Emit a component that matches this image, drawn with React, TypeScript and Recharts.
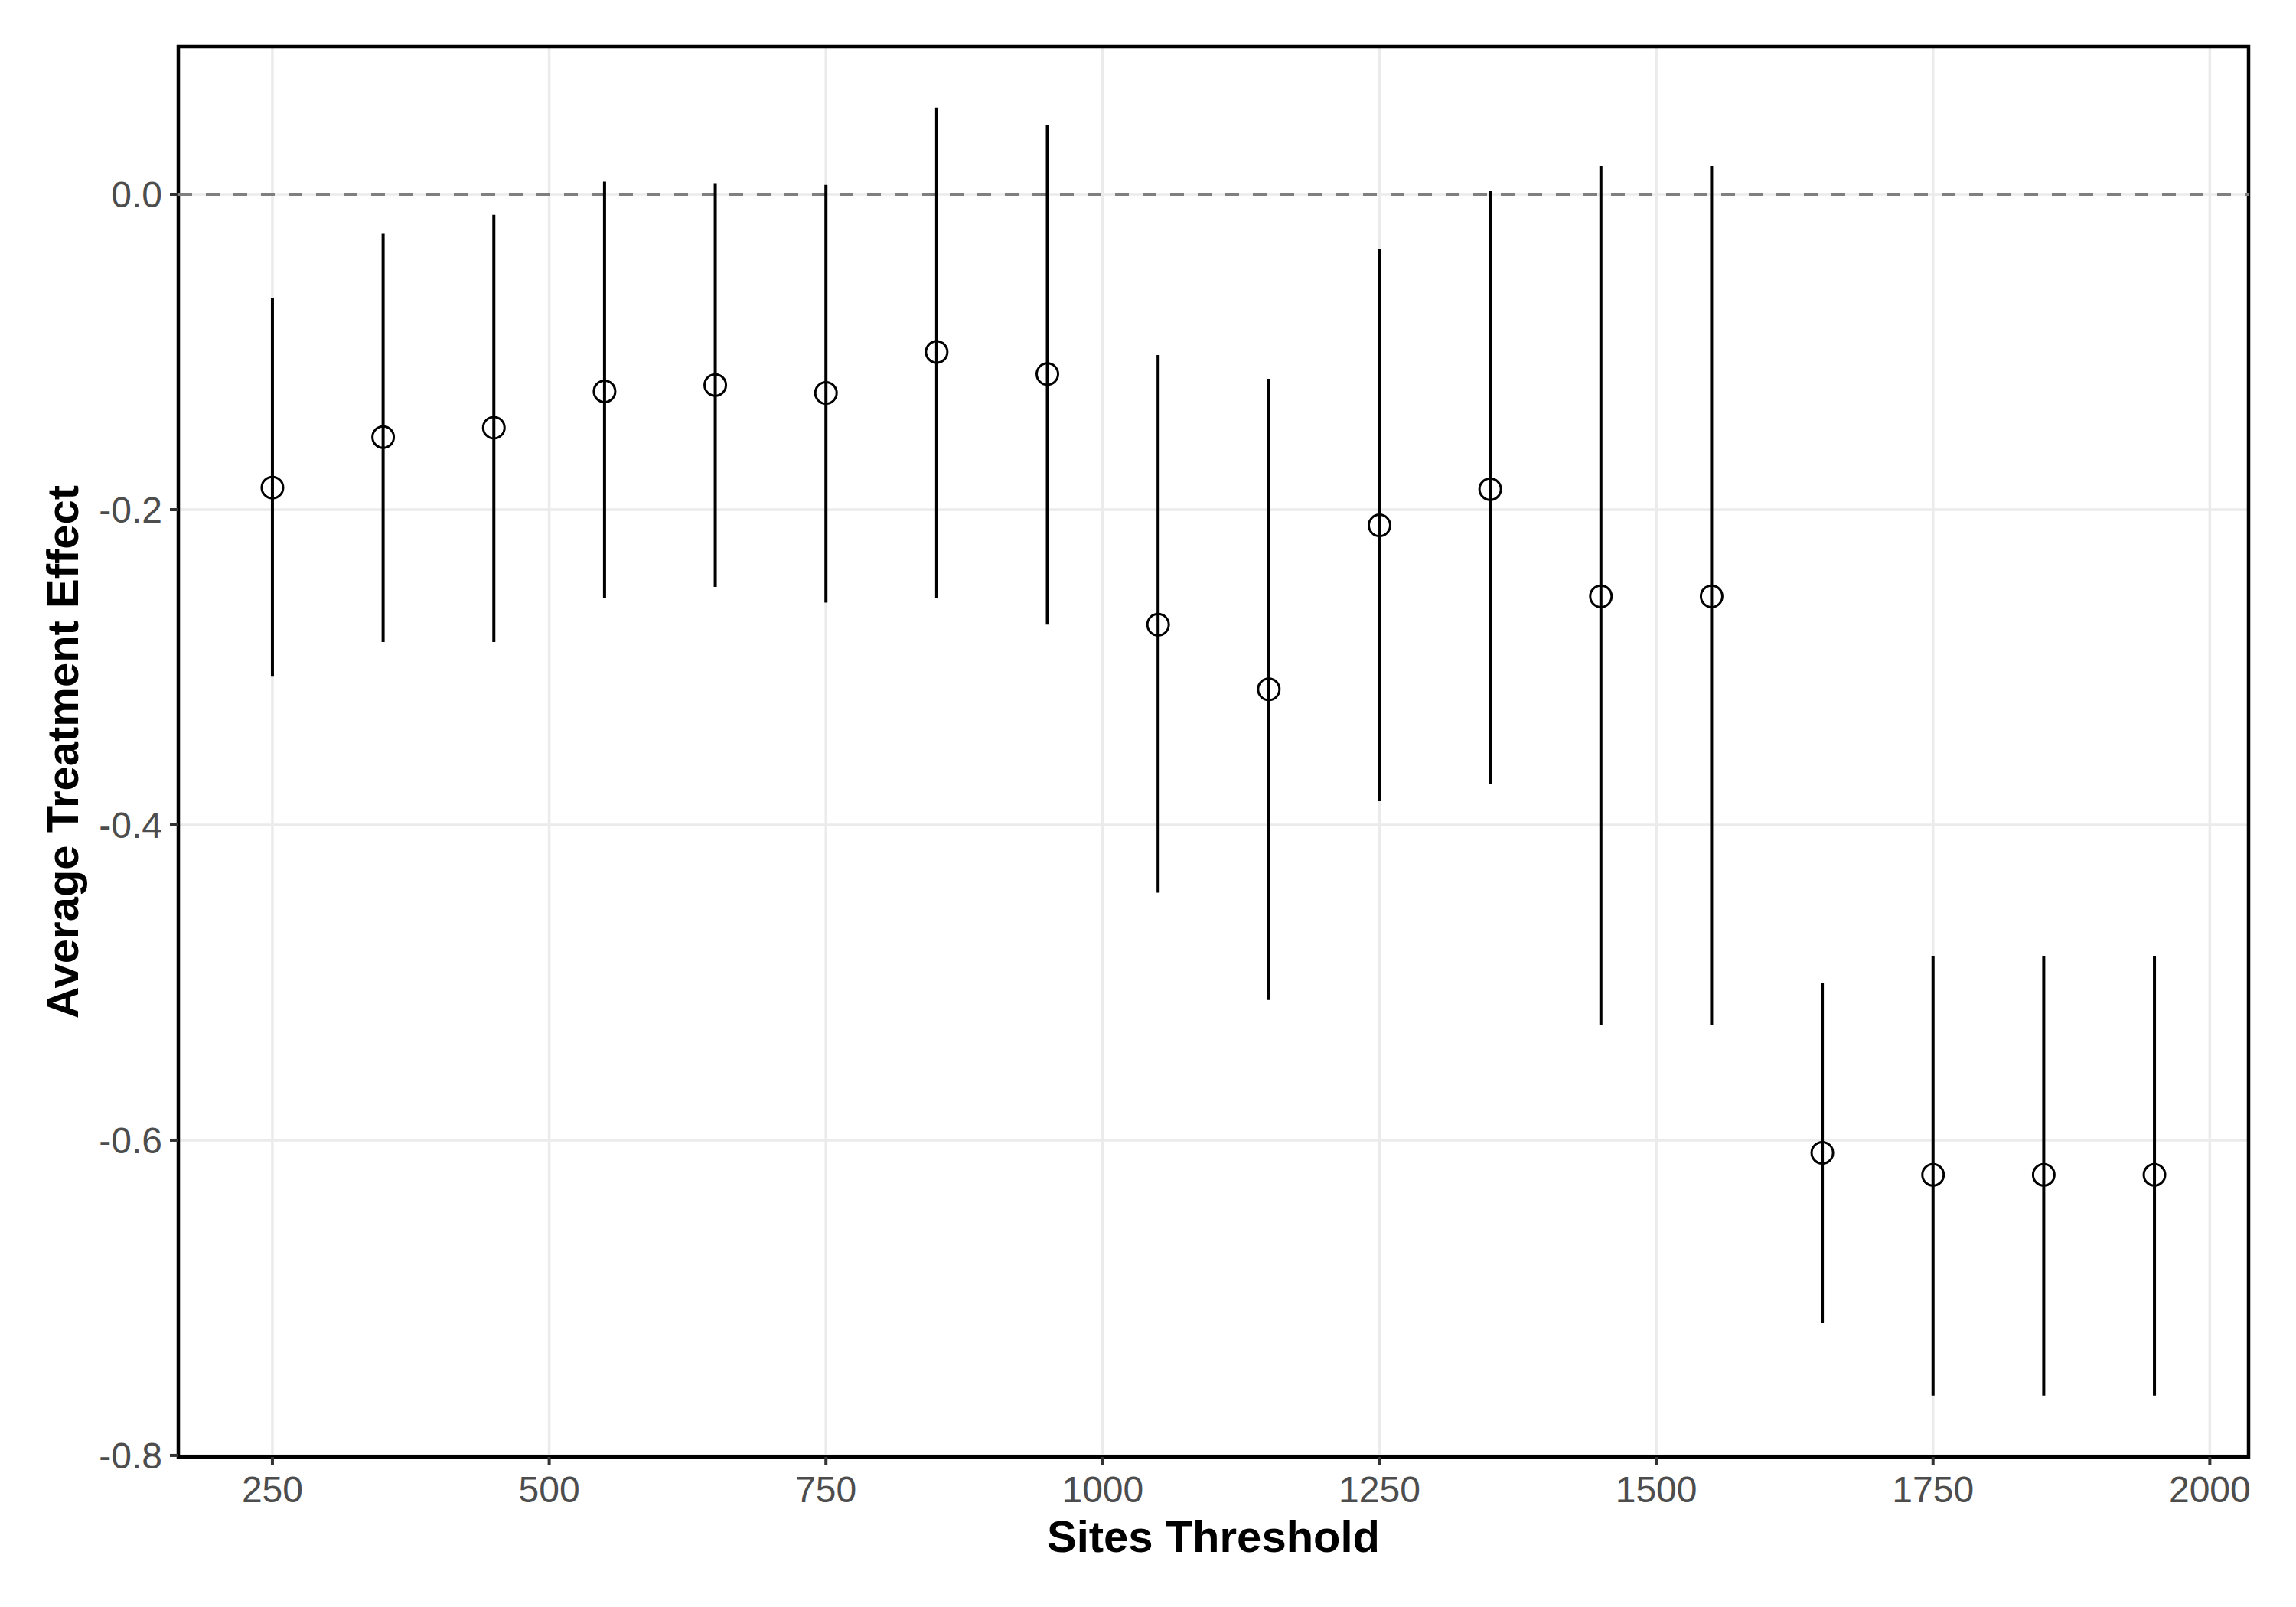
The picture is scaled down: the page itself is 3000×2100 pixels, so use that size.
import { ComposedChart, Scatter, ErrorBar, XAxis, YAxis, CartesianGrid, ReferenceLine, ReferenceArea } from 'recharts';

const thresholds = [250, 350, 450, 550, 650, 750, 850, 950, 1050, 1150, 1250, 1350, 1450, 1550, 1650, 1750, 1850, 1950];
const estimates = [-0.186, -0.154, -0.148, -0.125, -0.121, -0.126, -0.100, -0.114, -0.273, -0.314, -0.210, -0.187, -0.255, -0.255, -0.608, -0.622, -0.622, -0.622];
const ciLow = [-0.306, -0.284, -0.284, -0.256, -0.249, -0.259, -0.256, -0.273, -0.443, -0.511, -0.385, -0.374, -0.527, -0.527, -0.716, -0.762, -0.762, -0.762];
const ciHigh = [-0.066, -0.025, -0.013, 0.008, 0.007, 0.006, 0.055, 0.044, -0.102, -0.117, -0.035, 0.002, 0.018, 0.018, -0.500, -0.483, -0.483, -0.483];

const xTicks = [250, 500, 750, 1000, 1250, 1500, 1750, 2000];
const yTicks = [-0.8, -0.6, -0.4, -0.2, 0.0];
const xDomain: [number, number] = [165, 2035];
const yDomain: [number, number] = [-0.801, 0.0937];

const data = thresholds.map((t, i) => ({
  threshold: t,
  ate: estimates[i],
  err: [estimates[i] - ciLow[i], ciHigh[i] - estimates[i]],
}));

const FONT = '"Liberation Sans", Arial, Helvetica, sans-serif';

const Dot = (props: any) => (
  <circle cx={props.cx} cy={props.cy} r={14} fill="none" stroke="#000" strokeWidth={3} />
);

export default function App() {
  return (
    <div style={{ position: 'absolute', left: 0, top: 0, width: 3000, height: 2100, background: '#fff' }}>
      <ComposedChart
        width={3000}
        height={2100}
        data={data}
        margin={{ top: 61, right: 62, left: 0, bottom: 0 }}
        style={{ fontFamily: FONT }}
      >
        <CartesianGrid stroke="#ebebeb" strokeWidth={3.5} />
        <XAxis
          dataKey="threshold"
          type="number"
          domain={xDomain}
          allowDataOverflow
          ticks={xTicks}
          height={196}
          axisLine={false}
          tickSize={11}
          tickMargin={14}
          tickLine={{ stroke: '#333333', strokeWidth: 4 }}
          tick={{ fill: '#4d4d4d', fontSize: 48, fontFamily: FONT }}
          label={(p: any) => {
            const vb = p.viewBox;
            return (
              <text x={vb.x + vb.width / 2} y={2028} textAnchor="middle" fontSize={58} fontWeight="bold" fill="#000" fontFamily={FONT}>
                Sites Threshold
              </text>
            );
          }}
        />
        <YAxis
          type="number"
          domain={yDomain}
          allowDataOverflow
          ticks={yTicks}
          width={233}
          axisLine={false}
          tickSize={11}
          tickMargin={10}
          tickLine={{ stroke: '#333333', strokeWidth: 4 }}
          tick={{ fill: '#4d4d4d', fontSize: 48, fontFamily: FONT }}
          tickFormatter={(v: number) => v.toFixed(1)}
          label={(p: any) => {
            const vb = p.viewBox;
            const cy = vb.y + vb.height / 2;
            return (
              <text x={102} y={cy} transform={`rotate(-90, 102, ${cy})`} textAnchor="middle" fontSize={58} fontWeight="bold" fill="#000" fontFamily={FONT}>
                Average Treatment Effect
              </text>
            );
          }}
        />
        <ReferenceLine y={0} stroke="#7f7f7f" strokeWidth={4} strokeDasharray="18 18" />
        <Scatter dataKey="ate" shape={Dot} isAnimationActive={false}>
          <ErrorBar dataKey="err" direction="y" width={0} stroke="#000" strokeWidth={4} isAnimationActive={false} />
        </Scatter>
        <ReferenceArea
          x1={xDomain[0]}
          x2={xDomain[1]}
          y1={yDomain[0]}
          y2={yDomain[1]}
          fill="none"
          stroke="#000"
          strokeWidth={4.5}
          ifOverflow="visible"
        />
      </ComposedChart>
    </div>
  );
}
